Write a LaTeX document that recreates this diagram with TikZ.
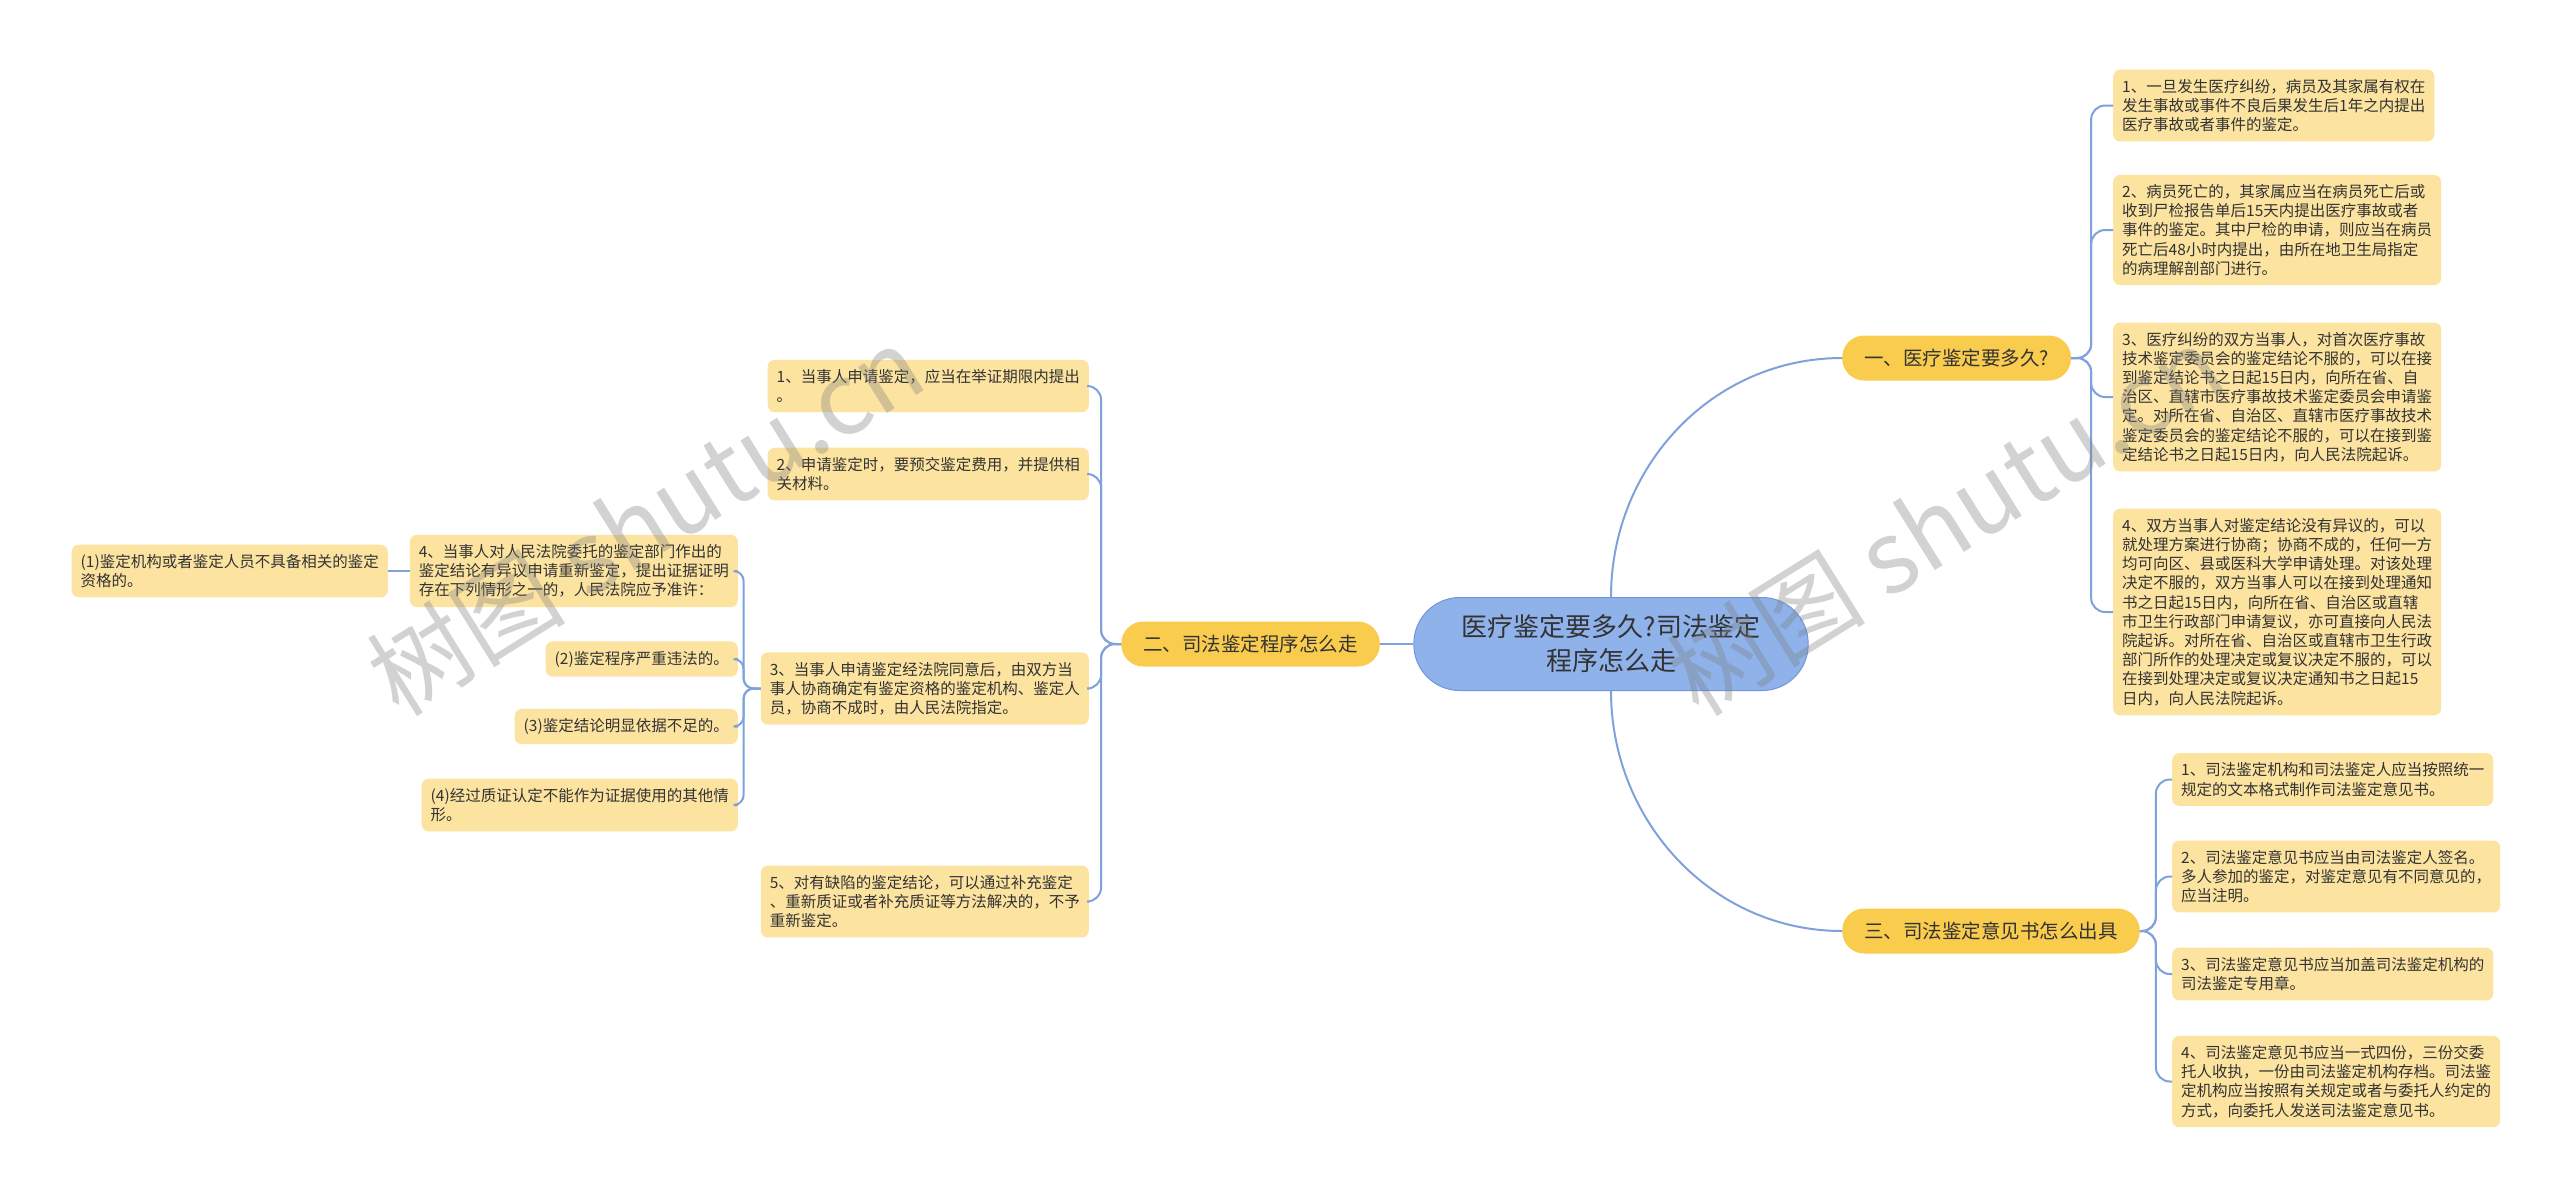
\documentclass[tikz,border=0pt]{standalone}
\usepackage{fontspec}
\setmainfont{Noto Sans CJK SC}
\definecolor{leafc}{HTML}{FCE3A0}
\definecolor{brc}{HTML}{F9CC4E}
\definecolor{rootc}{HTML}{8FB2EB}
\definecolor{rootd}{HTML}{6F96DC}
\definecolor{linec}{HTML}{7FA2DC}
\definecolor{txtc}{HTML}{333333}
\begin{document}
\begin{tikzpicture}[x=1pt,y=-1pt,
  conn/.style={draw=linec, line width=2pt, rounded corners=14pt},
  leaf/.style={fill=leafc, rounded corners=7pt, inner xsep=9pt, inner ysep=9.5pt, align=left, text=txtc, font=\fontsize{15.5}{19.2}\selectfont},
  branch/.style={fill=brc, rounded corners=22pt, minimum height=45pt, inner xsep=22pt, text=txtc, font=\fontsize{19.5}{24}\selectfont},
  rootn/.style={fill=rootc, draw=rootd, line width=1pt, rounded corners=46pt, minimum height=93pt, inner xsep=48pt, align=center, text=txtc, font=\fontsize{26}{34}\selectfont},
  wm/.style={text=gray, opacity=0.35, rotate=32, font=\fontsize{100}{100}\selectfont}
]
\fill[white] (0,0) rectangle (2560,1195);
\path[use as bounding box] (0,0) rectangle (2560,1195);

% root and branches
\node[rootn] (root) at (1611,644) {医疗鉴定要多久?司法鉴定\\程序怎么走};
\node[branch, anchor=west] (b1) at (1842,358) {一、医疗鉴定要多久?};
\node[branch, anchor=east] (b2) at (1380,644) {二、司法鉴定程序怎么走};
\node[branch, anchor=west] (b3) at (1842,931) {三、司法鉴定意见书怎么出具};

% branch 1 leaves
\node[leaf, anchor=west] (l1) at (2113,105.5) {1、一旦发生医疗纠纷，病员及其家属有权在\\发生事故或事件不良后果发生后1年之内提出\\医疗事故或者事件的鉴定。};
\node[leaf, anchor=west] (l2) at (2113,230) {2、病员死亡的，其家属应当在病员死亡后或\\收到尸检报告单后15天内提出医疗事故或者\\事件的鉴定。其中尸检的申请，则应当在病员\\死亡后48小时内提出，由所在地卫生局指定\\的病理解剖部门进行。};
\node[leaf, anchor=west] (l3) at (2113,397) {3、医疗纠纷的双方当事人，对首次医疗事故\\技术鉴定委员会的鉴定结论不服的，可以在接\\到鉴定结论书之日起15日内，向所在省、自\\治区、直辖市医疗事故技术鉴定委员会申请鉴\\定。对所在省、自治区、直辖市医疗事故技术\\鉴定委员会的鉴定结论不服的，可以在接到鉴\\定结论书之日起15日内，向人民法院起诉。};
\node[leaf, anchor=west] (l4) at (2113,612) {4、双方当事人对鉴定结论没有异议的，可以\\就处理方案进行协商；协商不成的，任何一方\\均可向区、县或医科大学申请处理。对该处理\\决定不服的，双方当事人可以在接到处理通知\\书之日起15日内，向所在省、自治区或直辖\\市卫生行政部门申请复议，亦可直接向人民法\\院起诉。对所在省、自治区或直辖市卫生行政\\部门所作的处理决定或复议决定不服的，可以\\在接到处理决定或复议决定通知书之日起15\\日内，向人民法院起诉。};

% branch 3 leaves
\node[leaf, anchor=west] (m1) at (2172,779.5) {1、司法鉴定机构和司法鉴定人应当按照统一\\规定的文本格式制作司法鉴定意见书。};
\node[leaf, anchor=west] (m2) at (2172,876.5) {2、司法鉴定意见书应当由司法鉴定人签名。\\多人参加的鉴定，对鉴定意见有不同意见的，\\应当注明。};
\node[leaf, anchor=west] (m3) at (2172,974) {3、司法鉴定意见书应当加盖司法鉴定机构的\\司法鉴定专用章。};
\node[leaf, anchor=west] (m4) at (2172,1081.5) {4、司法鉴定意见书应当一式四份，三份交委\\托人收执，一份由司法鉴定机构存档。司法鉴\\定机构应当按照有关规定或者与委托人约定的\\方式，向委托人发送司法鉴定意见书。};

% branch 2 leaves
\node[leaf, anchor=east] (n1) at (1089,386) {1、当事人申请鉴定，应当在举证期限内提出\\。};
\node[leaf, anchor=east] (n2) at (1089,474) {2、申请鉴定时，要预交鉴定费用，并提供相\\关材料。};
\node[leaf, anchor=east] (n3) at (1089,688.5) {3、当事人申请鉴定经法院同意后，由双方当\\事人协商确定有鉴定资格的鉴定机构、鉴定人\\员，协商不成时，由人民法院指定。};
\node[leaf, anchor=east] (n5) at (1089,901.5) {5、对有缺陷的鉴定结论，可以通过补充鉴定\\、重新质证或者补充质证等方法解决的，不予\\重新鉴定。};

% n3 children
\node[leaf, anchor=east] (c4) at (738,571) {4、当事人对人民法院委托的鉴定部门作出的\\鉴定结论有异议申请重新鉴定，提出证据证明\\存在下列情形之一的，人民法院应予准许：};
\node[leaf, anchor=east] (c2) at (738,659) {(2)鉴定程序严重违法的。};
\node[leaf, anchor=east] (c3) at (738,726.5) {(3)鉴定结论明显依据不足的。};
\node[leaf, anchor=east] (c5) at (738,805) {(4)经过质证认定不能作为证据使用的其他情\\形。};
\node[leaf, anchor=east] (c1) at (388,571) {(1)鉴定机构或者鉴定人员不具备相关的鉴定\\资格的。};

% connectors
\draw[conn] (root.north) to[out=90,in=180] (b1.west);
\draw[conn] (root.south) to[out=-90,in=180] (b3.west);
\draw[conn] (root.west) -- (b2.east);

\foreach \t in {l1,l2,l3,l4} \draw[conn] (b1.east) -- ++(20,0) |- (\t.west);
\foreach \t in {m1,m2,m3,m4} \draw[conn] (b3.east) -- ++(16,0) |- (\t.west);
\foreach \t in {n1,n2,n3,n5} \draw[conn] (b2.west) -- ++(-20,0) |- (\t.east);
\foreach \t in {c4,c2,c3,c5} \draw[conn, rounded corners=10pt] (n3.west) -- ++(-17,0) |- (\t.east);
\draw[conn] (c4.west) -- (c1.east);

% watermarks
\node[wm] (w1) at (645,520) {树图 shutu.cn};
\node[wm] (w2) at (1945,520) {树图 shutu.cn};
\end{tikzpicture}
\end{document}
